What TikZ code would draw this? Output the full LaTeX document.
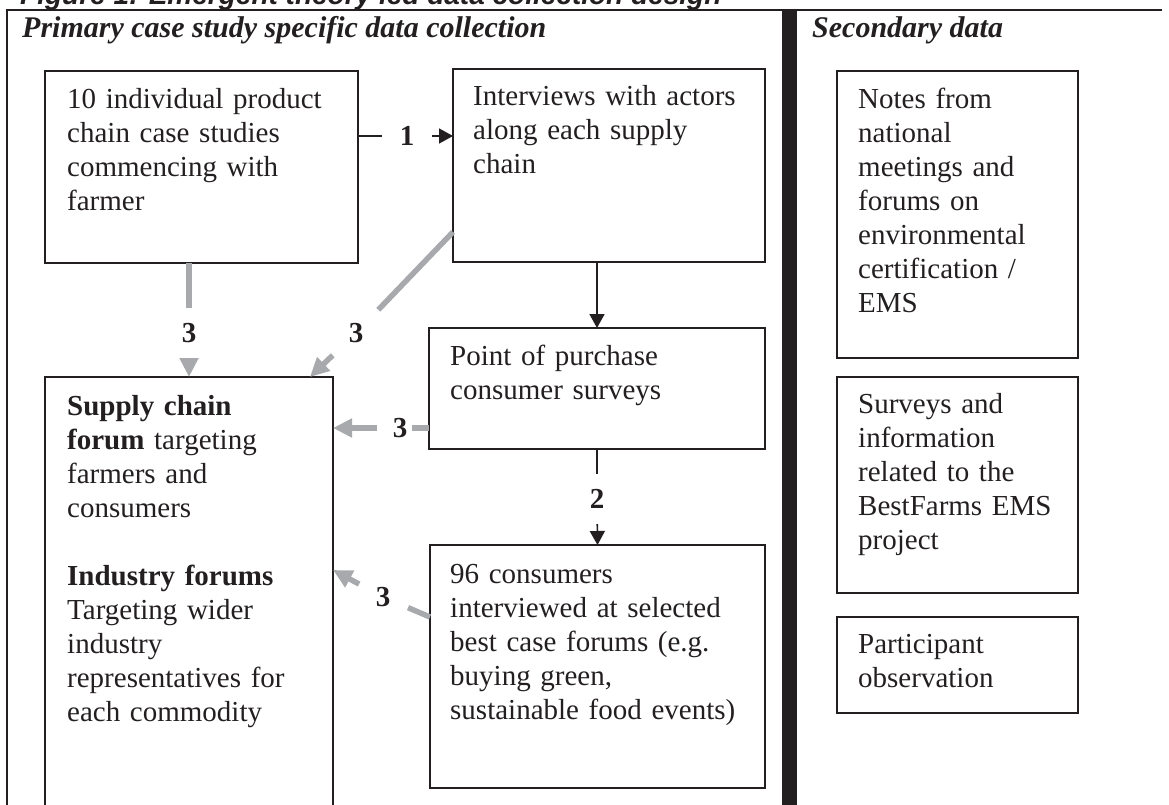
\documentclass[tikz,border=0pt]{standalone}
\usepackage{fontspec}
\setmainfont{Liberation Serif}
\newfontfamily\captionsans{Liberation Sans}
\usetikzlibrary{arrows.meta}

\definecolor{ink}{RGB}{35,31,32}
\definecolor{arrowgray}{RGB}{167,169,172}

\newcommand\bodysize{\fontsize{29}{34}\selectfont}

\begin{document}
\begin{tikzpicture}[x=1pt,y=-1pt,
  box/.style={draw=ink, line width=1.5pt, anchor=north west, inner sep=0pt, outer sep=0pt},
  boxtext/.style={anchor=north west, inner sep=0pt, text width=310pt, align=left, font=\bodysize, text=ink},
  heading/.style={anchor=base west, inner sep=0pt, font=\fontsize{30}{36}\selectfont\bfseries\itshape, text=ink},
  numlbl/.style={circle, inner sep=0pt, minimum size=#1, font=\bodysize\bfseries, text=ink},
  flow/.style={draw=ink, line width=1.6pt, -{Triangle[length=14pt,width=15pt]}},
  flowplain/.style={draw=ink, line width=1.6pt},
  feedback/.style={draw=arrowgray, line width=5.5pt, -{Triangle[length=19pt,width=18pt]}},
  feedbackplain/.style={draw=arrowgray, line width=5.5pt},
]
\useasboundingbox (0,0) rectangle (1169,805);
\clip (0,0) rectangle (1169,805);

% figure caption, running off the top edge
\node[anchor=base west, inner sep=0pt, text=ink,
      font=\captionsans\fontsize{28}{32}\selectfont\bfseries\itshape] (caption) at (20,5)
  {Figure 1: Emergent theory led data collection design};

% outer frame and the heavy divider between the two columns
\draw[ink, line width=2.2pt] (7,830) -- (7,10) -- (1162,10);
\fill[ink] (782,10) rectangle (797,830);

% column headings
\node[heading] (hprimary) at (22,38) {Primary case study specific data collection};
\node[heading] (hsecondary) at (812,38) {Secondary data};

% primary data boxes
\node[box, minimum width=313pt, minimum height=192pt] (A) at (45,71) {};
\node[box, minimum width=312pt, minimum height=193pt] (B) at (453,69) {};
\node[box, minimum width=336pt, minimum height=121pt] (C) at (429,328) {};
\node[box, minimum width=288pt, minimum height=460pt] (D) at (45,377) {};
\node[box, minimum width=335pt, minimum height=243pt] (E) at (430,545) {};

% secondary data boxes
\node[box, minimum width=241pt, minimum height=287pt] (R1) at (837,71) {};
\node[box, minimum width=241pt, minimum height=216pt] (R2) at (837,377) {};
\node[box, minimum width=241pt, minimum height=96pt] (R3) at (837,617) {};

% box texts
\node[boxtext] (tA) at (67,84.2) {\strut 10 individual product\\chain case studies\\commencing with\\farmer};
\node[boxtext] (tB) at (473,81.2) {\strut Interviews with actors\\along each supply\\chain};
\node[boxtext] (tC) at (450,341.2) {\strut Point of purchase\\consumer surveys};
\node[boxtext] (tD) at (67,391.2) {\strut\textbf{Supply chain}\\\textbf{forum} targeting\\farmers and\\consumers\\\mbox{}\\\textbf{Industry forums}\\Targeting wider\\industry\\representatives for\\each commodity};
\node[boxtext] (tE) at (450,559.2) {\strut 96 consumers\\interviewed at selected\\best case forums (e.g.\\buying green,\\sustainable food events)};
\node[boxtext] (tR1) at (858,84.2) {\strut Notes from\\national\\meetings and\\forums on\\environmental\\certification /\\EMS};
\node[boxtext] (tR2) at (858,389.2) {\strut Surveys and\\information\\related to the\\BestFarms EMS\\project};
\node[boxtext] (tR3) at (858,629.2) {\strut Participant\\observation};

% step labels
\node[numlbl=50pt] (l1) at (407,136) {1};
\node[numlbl=50pt] (l2) at (597,499) {2};
\node[numlbl=50pt] (l3a) at (189,333) {3};
\node[numlbl=64pt] (l3b) at (356,333) {3};
\node[numlbl=14pt] (l3c) at (400,428) {3};
\node[numlbl=54pt] (l3d) at (383,597) {3};

% main sequence (black)
\draw[flowplain] (l1 -| A.east) -- (l1);
\draw[flow] (l1) -- (l1 -| B.west);
\draw[flow] (C.north |- B.south) -- (C.north);
\draw[flowplain] (C.south) -- (l2);
\draw[flow] (l2) -- (E.north);

% feedback into the forums (grey)
\draw[feedbackplain] (l3a |- A.south) -- (l3a);
\draw[feedback] (l3a) -- (l3a |- D.north);
\draw[feedbackplain] ([yshift=30pt]B.south west) -- (l3b);
\draw[feedback] (l3b) -- ([xshift=-23pt]D.north east);
\draw[feedbackplain] (l3c -| C.west) -- (l3c);
\draw[feedback, shorten <=11pt] (l3c) -- (l3c -| D.east);
\draw[feedbackplain] ([yshift=-72pt]E.north west) -- (l3d);
\draw[feedback] (l3d) -- ([yshift=-193pt]D.north east);
\end{tikzpicture}
\end{document}
